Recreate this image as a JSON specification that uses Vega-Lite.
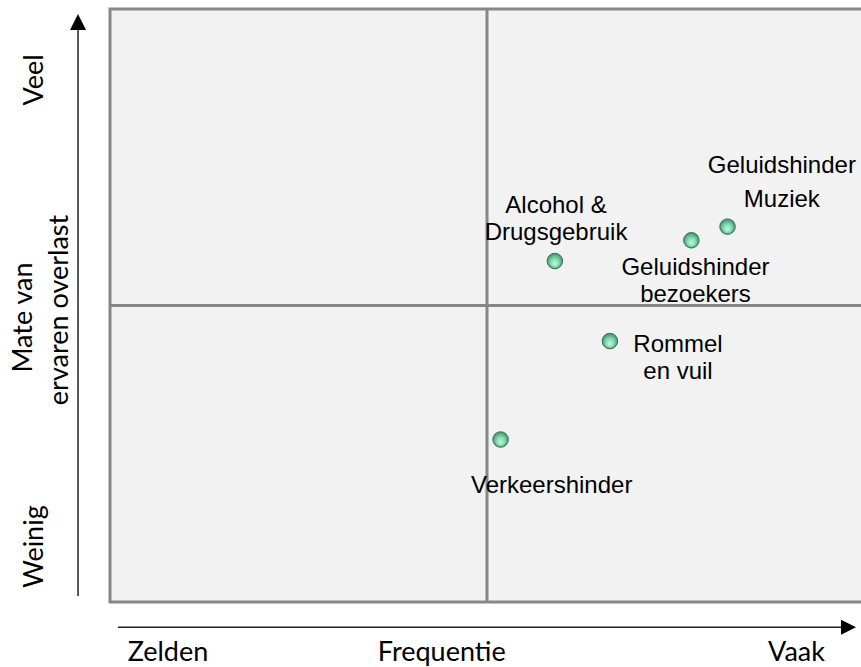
{
  "$schema": "https://vega.github.io/schema/vega-lite/v6.json",
  "width": 751,
  "height": 593,
  "autosize": {"type": "none"},
  "padding": {"left": 110, "top": 9, "right": 0, "bottom": 65},
  "background": "white",
  "config": {"view": {"stroke": null}, "axis": {"disable": true}},
  "layer": [
    {
      "data": {"values": [{"x0": 0, "x1": 100, "y0": 0, "y1": 100}]},
      "mark": {"type": "rect", "fill": "#f2f2f2", "stroke": "#878787", "strokeWidth": 3, "clip": false},
      "encoding": {
        "x": {"field": "x0", "type": "quantitative", "scale": {"domain": [0, 99.6], "nice": false, "zero": false}, "axis": null},
        "x2": {"field": "x1"},
        "y": {"field": "y0", "type": "quantitative", "scale": {"domain": [0, 100], "nice": false, "zero": false}, "axis": null},
        "y2": {"field": "y1"}
      }
    },
    {
      "data": {"values": [{"xa": 50, "ya": 0, "xb": 50, "yb": 100}, {"xa": 0, "ya": 50, "xb": 100, "yb": 50}]},
      "mark": {"type": "rule", "stroke": "#878787", "strokeWidth": 3},
      "encoding": {
        "x": {"field": "xa", "type": "quantitative", "scale": {"domain": [0, 99.6], "nice": false, "zero": false}},
        "x2": {"field": "xb"},
        "y": {"field": "ya", "type": "quantitative", "scale": {"domain": [0, 100], "nice": false, "zero": false}},
        "y2": {"field": "yb"}
      }
    },
    {
      "data": {"values": [{"xa": -4.24, "ya": 1.0, "xb": -4.24, "yb": 97.8}, {"xa": 1.06, "ya": -4.27, "xb": 97.9, "yb": -4.27}]},
      "mark": {"type": "rule", "stroke": "#222222", "strokeWidth": 1.5},
      "encoding": {
        "x": {"field": "xa", "type": "quantitative", "scale": {"domain": [0, 99.6], "nice": false, "zero": false}},
        "x2": {"field": "xb"},
        "y": {"field": "ya", "type": "quantitative", "scale": {"domain": [0, 100], "nice": false, "zero": false}},
        "y2": {"field": "yb"}
      }
    },
    {
      "data": {"values": [{"xa": -4.24, "ya": 97.8}]},
      "mark": {"type": "point", "shape": "M0,-1L1,1L-1,1Z", "size": 256, "filled": true, "fill": "#000000", "opacity": 1, "strokeWidth": 0},
      "encoding": {
        "x": {"field": "xa", "type": "quantitative", "scale": {"domain": [0, 99.6], "nice": false, "zero": false}},
        "y": {"field": "ya", "type": "quantitative", "scale": {"domain": [0, 100], "nice": false, "zero": false}}
      }
    },
    {
      "data": {"values": [{"xa": 97.94, "ya": -4.27}]},
      "mark": {"type": "point", "shape": "M-1,-1L1,0L-1,1Z", "size": 225, "filled": true, "fill": "#000000", "opacity": 1, "strokeWidth": 0},
      "encoding": {
        "x": {"field": "xa", "type": "quantitative", "scale": {"domain": [0, 99.6], "nice": false, "zero": false}},
        "y": {"field": "ya", "type": "quantitative", "scale": {"domain": [0, 100], "nice": false, "zero": false}}
      }
    },
    {
      "data": {"values": [
        {"item": "Alcohol & Drugsgebruik", "frequentie": 59.0, "overlast": 57.5},
        {"item": "Geluidshinder bezoekers", "frequentie": 77.1, "overlast": 61.0},
        {"item": "Geluidshinder Muziek", "frequentie": 81.9, "overlast": 63.3},
        {"item": "Rommel en vuil", "frequentie": 66.3, "overlast": 44.0},
        {"item": "Verkeershinder", "frequentie": 51.8, "overlast": 27.4}
      ]},
      "mark": {
        "type": "point", "shape": "circle", "size": 240, "filled": true, "opacity": 1,
        "fill": {"gradient": "radial", "x1": 0.5, "y1": 0.72, "r1": 0, "x2": 0.5, "y2": 0.5, "r2": 0.55,
          "stops": [{"offset": 0, "color": "#c6f9dd"}, {"offset": 0.5, "color": "#7fdcac"}, {"offset": 1, "color": "#3d7f65"}]},
        "stroke": "#35705a", "strokeWidth": 1
      },
      "encoding": {
        "x": {"field": "frequentie", "type": "quantitative", "scale": {"domain": [0, 99.6], "nice": false, "zero": false}},
        "y": {"field": "overlast", "type": "quantitative", "scale": {"domain": [0, 100], "nice": false, "zero": false}}
      }
    },
    {
      "data": {"values": [
        {"label": "Alcohol &\nDrugsgebruik", "lx": 59.15, "ly": 65.65},
        {"label": "Geluidshinder", "lx": 89.1, "ly": 72.3},
        {"label": "Muziek", "lx": 89.1, "ly": 66.66},
        {"label": "Geluidshinder\nbezoekers", "lx": 77.65, "ly": 55.14},
        {"label": "Rommel\nen vuil", "lx": 75.33, "ly": 42.2},
        {"label": "Verkeershinder", "lx": 58.58, "ly": 18.43}
      ]},
      "mark": {"type": "text", "font": "Liberation Sans", "fontSize": 24, "align": "center", "baseline": "alphabetic", "lineBreak": "\n", "lineHeight": 27, "color": "#000000"},
      "encoding": {
        "x": {"field": "lx", "type": "quantitative", "scale": {"domain": [0, 99.6], "nice": false, "zero": false}},
        "y": {"field": "ly", "type": "quantitative", "scale": {"domain": [0, 100], "nice": false, "zero": false}},
        "text": {"field": "label"}
      }
    },
    {
      "data": {"values": [
        {"label": "Zelden", "lx": 7.69, "ly": -9.95},
        {"label": "Frequentie", "lx": 44.0, "ly": -9.95},
        {"label": "Vaak", "lx": 91.05, "ly": -9.95}
      ]},
      "mark": {"type": "text", "font": "Lato", "fontSize": 27, "align": "center", "baseline": "alphabetic", "color": "#000000"},
      "encoding": {
        "x": {"field": "lx", "type": "quantitative", "scale": {"domain": [0, 99.6], "nice": false, "zero": false}},
        "y": {"field": "ly", "type": "quantitative", "scale": {"domain": [0, 100], "nice": false, "zero": false}},
        "text": {"field": "label"}
      }
    },
    {
      "data": {"values": [
        {"label": "Veel", "lx": -8.89, "ly": 88.03},
        {"label": "Weinig", "lx": -8.89, "ly": 9.33},
        {"label": "Mate van", "lx": -10.41, "ly": 47.98},
        {"label": "ervaren overlast", "lx": -5.57, "ly": 49.24}
      ]},
      "mark": {"type": "text", "font": "Lato", "fontSize": 27, "align": "center", "baseline": "alphabetic", "angle": 270, "color": "#000000"},
      "encoding": {
        "x": {"field": "lx", "type": "quantitative", "scale": {"domain": [0, 99.6], "nice": false, "zero": false}},
        "y": {"field": "ly", "type": "quantitative", "scale": {"domain": [0, 100], "nice": false, "zero": false}},
        "text": {"field": "label"}
      }
    }
  ]
}
